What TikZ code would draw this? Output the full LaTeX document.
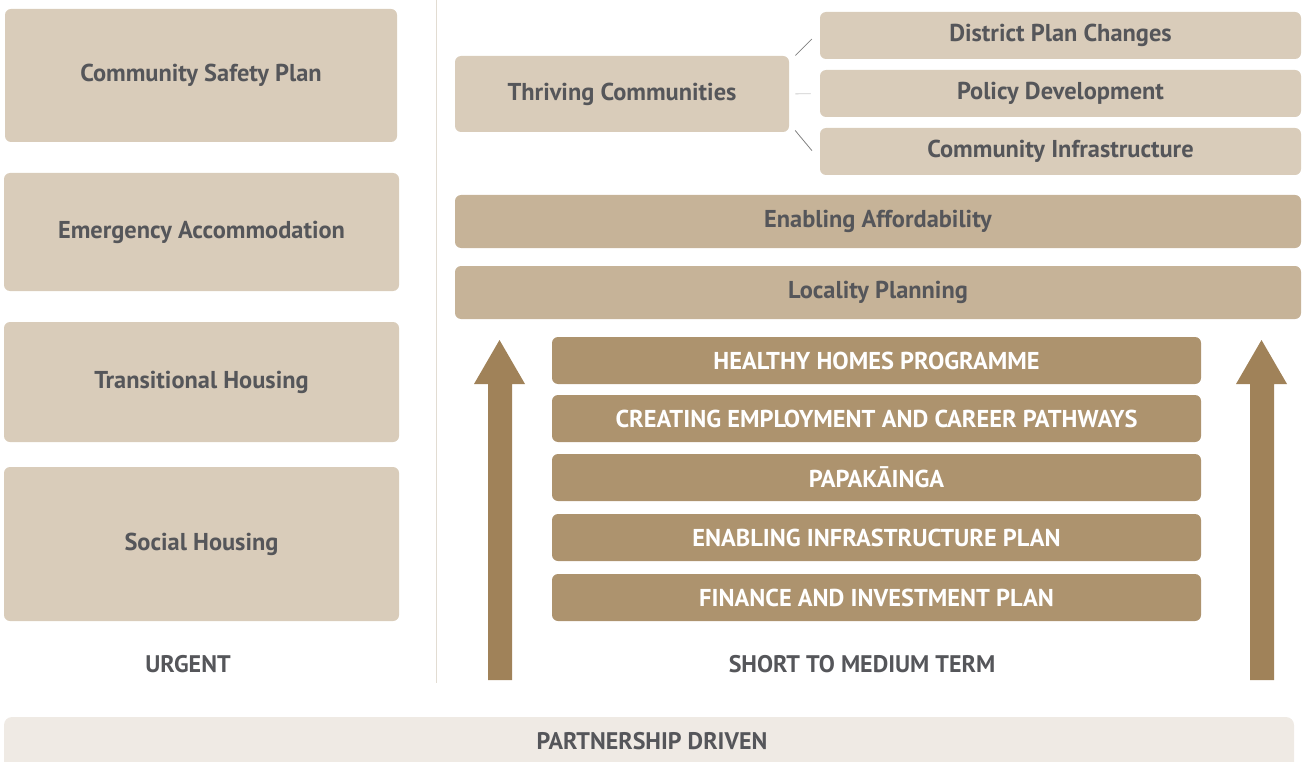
\documentclass[tikz,border=0pt]{standalone}
\usepackage{fontspec}
\setmainfont{PT Sans}
\usetikzlibrary{calc}

\definecolor{boxlight}{HTML}{D9CCBA}
\definecolor{boxmid}{HTML}{C6B398}
\definecolor{boxdark}{HTML}{AD936E}
\definecolor{arrowtan}{HTML}{A08259}
\definecolor{textgrey}{HTML}{55565A}
\definecolor{baseband}{HTML}{EFEAE4}
\definecolor{divider}{HTML}{E2DCD2}

\tikzset{
  every picture/.style={line width=0.75pt},
  lightbox/.style={fill=boxlight, rounded corners=6pt, inner sep=0pt, font=\bfseries\fontsize{24.4}{26}\selectfont, text=textgrey},
  midbox/.style={fill=boxmid, rounded corners=6pt, inner sep=0pt, minimum width=846pt, minimum height=53pt, font=\bfseries\fontsize{24.4}{26}\selectfont, text=textgrey},
  darkbox/.style={fill=boxdark, rounded corners=6pt, inner sep=0pt, minimum width=649pt, minimum height=47pt, font=\bfseries\fontsize{24.4}{26}\selectfont, text=white},
  sidebox/.style={lightbox, minimum width=481pt, minimum height=47pt},
  phase/.style={font=\bfseries\fontsize{24}{26}\selectfont, text=textgrey, inner sep=0pt},
  link/.style={draw=black!50, line width=0.8pt}
}

\begin{document}
\begin{tikzpicture}[x=1pt,y=1pt,yscale=-1]
\useasboundingbox (0,0) rectangle (1303,762);

% divider between the two columns
\draw [divider, line width=1pt] (436,0) -- (436,683);

% Urgent column
\node [lightbox, minimum width=392pt, minimum height=133pt] (csp) at (201,75.5) {Community Safety Plan};
\node [lightbox, minimum width=395pt, minimum height=118pt] (ema) at (201.5,232) {Emergency Accommodation};
\node [lightbox, minimum width=395pt, minimum height=120pt] (trh) at (201.5,382) {Transitional Housing};
\node [lightbox, minimum width=395pt, minimum height=154pt] (soc) at (201.5,544) {Social Housing};
\node [phase] (urg) at (188,664) {URGENT};

% Thriving communities and its three branches
\node [lightbox, minimum width=334pt, minimum height=76pt] (thr) at (622,94) {Thriving Communities};
\node [sidebox] (dpc) at (1060.5,35.5) {District Plan Changes};
\node [sidebox] (pol) at (1060.5,93.5) {Policy Development};
\node [sidebox] (cin) at (1060.5,151.5) {Community Infrastructure};
\draw [link, shorten <=8.5pt, shorten >=11pt] (thr.11) -- (dpc.179);
\draw [link, draw=black!20, shorten <=6pt, shorten >=9pt] (thr.east) -- (pol.west);
\draw [link, shorten <=9pt, shorten >=12pt] (thr.-10.6) -- (cin.182);

% wide bands
\node [midbox] (ena) at (878,221.5) {Enabling Affordability};
\node [midbox] (loc) at (878,292.5) {Locality Planning};

% programme stack
\node [darkbox] (hhp) at (876.5,360.5) {HEALTHY HOMES PROGRAMME};
\node [darkbox] (cre) at (876.5,418.5) {CREATING EMPLOYMENT AND CAREER PATHWAYS};
\node [darkbox] (pap) at (876.5,477.5) {PAPAKĀINGA};
\node [darkbox] (inf) at (876.5,537.5) {ENABLING INFRASTRUCTURE PLAN};
\node [darkbox] (fin) at (876.5,597.5) {FINANCE AND INVESTMENT PLAN};
\node [phase] (smt) at (862,664) {SHORT TO MEDIUM TERM};

% upward arrows either side of the stack
\fill [arrowtan] (488,680) -- (488,384) -- (474,384) -- (499.5,340) -- (525,384) -- (512,384) -- (512,680) -- cycle;
\fill [arrowtan] (1250,680) -- (1250,384) -- (1236,384) -- (1261.5,340) -- (1287,384) -- (1274,384) -- (1274,680) -- cycle;

% base band
\fill [baseband, rounded corners=8pt] (4,717) rectangle (1294,775);
\node [phase] (prt) at (652,741) {PARTNERSHIP DRIVEN};

\end{tikzpicture}
\end{document}
